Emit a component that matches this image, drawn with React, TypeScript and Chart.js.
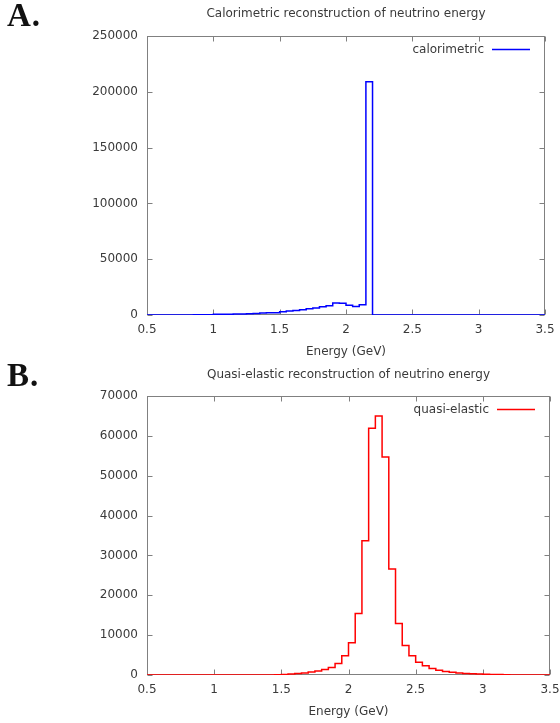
import React, { useEffect, useRef } from 'react';
import { Chart, registerables } from 'chart.js';

Chart.register(...registerables);

// Left edges of the 0.05 GeV bins, plus the final right edge (3.5)
const binEdges = [
  0.5, 0.55, 0.6, 0.65, 0.7, 0.75, 0.8, 0.85, 0.9, 0.95,
  1.0, 1.05, 1.1, 1.15, 1.2, 1.25, 1.3, 1.35, 1.4, 1.45,
  1.5, 1.55, 1.6, 1.65, 1.7, 1.75, 1.8, 1.85, 1.9, 1.95,
  2.0, 2.05, 2.1, 2.15, 2.2, 2.25, 2.3, 2.35, 2.4, 2.45,
  2.5, 2.55, 2.6, 2.65, 2.7, 2.75, 2.8, 2.85, 2.9, 2.95,
  3.0, 3.05, 3.1, 3.15, 3.2, 3.25, 3.3, 3.35, 3.4, 3.45,
  3.5,
];

const calorimetricCounts = [
  0, 0, 0, 0, 0, 50, 100, 150, 200, 250,
  600, 650, 700, 800, 900, 1200, 1400, 1900, 2000, 2100,
  2900, 3500, 4100, 4700, 5600, 6300, 7300, 8300, 10800, 10600,
  8800, 7600, 9100, 209000, 0, 0, 0, 0, 0, 0,
  0, 0, 0, 0, 0, 0, 0, 0, 0, 0,
  0, 0, 0, 0, 0, 0, 0, 0, 0, 0,
];

const quasiElasticCounts = [
  0, 0, 0, 0, 0, 0, 0, 0, 0, 0,
  0, 0, 0, 0, 0, 0, 0, 0, 0, 80,
  150, 250, 350, 500, 750, 1000, 1400, 1900, 2900, 4800,
  8100, 15400, 33700, 61900, 65000, 54700, 26600, 12900, 7400, 4800,
  3200, 2300, 1600, 1200, 900, 700, 500, 400, 300, 250,
  200, 150, 100, 80, 0, 0, 0, 0, 0, 0,
];

const xTickValues = [0.5, 1, 1.5, 2, 2.5, 3, 3.5];
const xTickLabels = ['0.5', '1', '1.5', '2', '2.5', '3', '3.5'];

const calYTickValues = [0, 50000, 100000, 150000, 200000, 250000];
const calYTickLabels = ['0', '50000', '100000', '150000', '200000', '250000'];

const qeYTickValues = [0, 10000, 20000, 30000, 40000, 50000, 60000, 70000];
const qeYTickLabels = ['0', '10000', '20000', '30000', '40000', '50000', '60000', '70000'];

const FONT = 'DejaVu Sans';
const TEXT = '#3a3a3a';
const FRAME = '#808080';

const framePlugin = {
  id: 'gnuframe',
  beforeDatasetsDraw(chart: any) {
    const { ctx, chartArea: a, scales } = chart;
    const x = scales.x;
    const y = scales.y;
    const L = Math.round(a.left) + 0.5;
    const R = Math.round(a.right) - 0.5;
    const T = Math.round(a.top) + 0.5;
    const B = Math.round(a.bottom) - 0.5;
    const len = 5;
    ctx.save();
    ctx.strokeStyle = FRAME;
    ctx.lineWidth = 1;
    ctx.strokeRect(L, T, R - L, B - T);
    ctx.beginPath();
    for (const t of x.ticks) {
      const px = Math.round(x.getPixelForValue(t.value)) + 0.5;
      ctx.moveTo(px, B);
      ctx.lineTo(px, B - len);
      ctx.moveTo(px, T);
      ctx.lineTo(px, T + len);
    }
    for (const t of y.ticks) {
      const py = Math.round(y.getPixelForValue(t.value)) + 0.5;
      ctx.moveTo(L, py);
      ctx.lineTo(L + len, py);
      ctx.moveTo(R, py);
      ctx.lineTo(R - len, py);
    }
    ctx.stroke();
    ctx.restore();
  },
  afterDatasetsDraw(chart: any) {
    const { ctx, chartArea: a } = chart;
    const ds = chart.data.datasets[0];
    const yy = a.top + 13.5;
    ctx.save();
    ctx.font = `12px "${FONT}"`;
    ctx.fillStyle = TEXT;
    ctx.textAlign = 'right';
    ctx.textBaseline = 'middle';
    ctx.fillText(ds.label, a.right - 61, yy);
    ctx.strokeStyle = ds.borderColor;
    ctx.lineWidth = 1.5;
    ctx.beginPath();
    ctx.moveTo(a.right - 53, yy);
    ctx.lineTo(a.right - 15, yy);
    ctx.stroke();
    ctx.restore();
  },
};

type Spec = {
  title: string;
  label: string;
  color: string;
  counts: number[];
  yMax: number;
  yTicks: number[];
  yLabels: string[];
  width: number;
  height: number;
  padRight: number;
  titleTop: number;
  titleBottom: number;
  xHeight: number;
  xTitleBottom: number;
};

function HistChart({ spec }: { spec: Spec }) {
  const ref = useRef<HTMLCanvasElement | null>(null);
  useEffect(() => {
    if (!ref.current) return;
    const points = binEdges.map((e, i) => ({
      x: e,
      y: spec.counts[Math.min(i, spec.counts.length - 1)],
    }));
    const chart = new Chart(ref.current, {
      type: 'line',
      data: {
        datasets: [
          {
            label: spec.label,
            data: points,
            borderColor: spec.color,
            backgroundColor: spec.color,
            borderWidth: 1.5,
            pointRadius: 0,
            stepped: 'before',
            fill: false,
          } as any,
        ],
      },
      options: {
        animation: false,
        responsive: false,
        layout: { padding: { left: 0, right: spec.padRight, top: 0, bottom: 0 } },
        plugins: {
          legend: { display: false },
          tooltip: { enabled: false },
          title: {
            display: true,
            text: spec.title,
            fullSize: false,
            color: TEXT,
            font: { family: FONT, size: 12, weight: 'normal' },
            padding: { top: spec.titleTop, bottom: spec.titleBottom },
          },
        },
        scales: {
          x: {
            type: 'linear',
            min: 0.5,
            max: 3.5,
            grid: { display: false, drawTicks: false },
            border: { display: false },
            afterBuildTicks: (s: any) => {
              s.ticks = xTickValues.map((v) => ({ value: v }));
            },
            afterFit: (s: any) => {
              s.height = spec.xHeight;
              s.paddingLeft = 0;
              s.paddingRight = 0;
            },
            ticks: {
              autoSkip: false,
              maxRotation: 0,
              padding: 8,
              color: TEXT,
              font: { family: FONT, size: 12 },
              callback: (_v: any, i: number) => xTickLabels[i],
            },
            title: {
              display: true,
              text: 'Energy (GeV)',
              color: TEXT,
              font: { family: FONT, size: 12 },
              padding: { top: 0, bottom: spec.xTitleBottom },
            },
          },
          y: {
            type: 'linear',
            min: 0,
            max: spec.yMax,
            grid: { display: false, drawTicks: false },
            border: { display: false },
            afterBuildTicks: (s: any) => {
              s.ticks = spec.yTicks.map((v) => ({ value: v }));
            },
            afterFit: (s: any) => {
              s.width = 147;
              s.paddingTop = 0;
              s.paddingBottom = 0;
            },
            ticks: {
              autoSkip: false,
              padding: 9,
              color: TEXT,
              font: { family: FONT, size: 12 },
              callback: (_v: any, i: number) => spec.yLabels[i],
            },
          },
        },
      },
      plugins: [framePlugin],
    });
    return () => chart.destroy();
  }, [spec]);
  return (
    <canvas
      ref={ref}
      width={spec.width}
      height={spec.height}
      style={{ width: spec.width, height: spec.height, display: 'block' }}
    />
  );
}

const specA: Spec = {
  title: 'Calorimetric reconstruction of neutrino energy',
  label: 'calorimetric',
  color: '#0000ff',
  counts: calorimetricCounts,
  yMax: 250000,
  yTicks: calYTickValues,
  yLabels: calYTickLabels,
  width: 560,
  height: 362,
  padRight: 15,
  titleTop: 6.8,
  titleBottom: 14.8,
  xHeight: 47,
  xTitleBottom: 2.8,
};

const specB: Spec = {
  title: 'Quasi-elastic reconstruction of neutrino energy',
  label: 'quasi-elastic',
  color: '#ff0000',
  counts: quasiElasticCounts,
  yMax: 70000,
  yTicks: qeYTickValues,
  yLabels: qeYTickLabels,
  width: 560,
  height: 361,
  padRight: 10,
  titleTop: 5.8,
  titleBottom: 13.8,
  xHeight: 48,
  xTitleBottom: 3.8,
};

const panelLabel: React.CSSProperties = {
  position: 'absolute',
  left: 7,
  fontFamily: '"Liberation Serif", serif',
  fontWeight: 'bold',
  fontSize: 33,
  letterSpacing: 1,
  lineHeight: '33px',
  color: '#111111',
  margin: 0,
};

export default function App() {
  return (
    <div
      style={{
        position: 'absolute',
        left: 0,
        top: 0,
        width: 560,
        height: 723,
        background: '#ffffff',
        overflow: 'hidden',
      }}
    >
      <div style={{ position: 'absolute', left: 0, top: 0 }}>
        <HistChart spec={specA} />
      </div>
      <div style={{ position: 'absolute', left: 0, top: 362 }}>
        <HistChart spec={specB} />
      </div>
      <div style={{ ...panelLabel, top: -1 }}>A.</div>
      <div style={{ ...panelLabel, top: 359 }}>B.</div>
    </div>
  );
}
